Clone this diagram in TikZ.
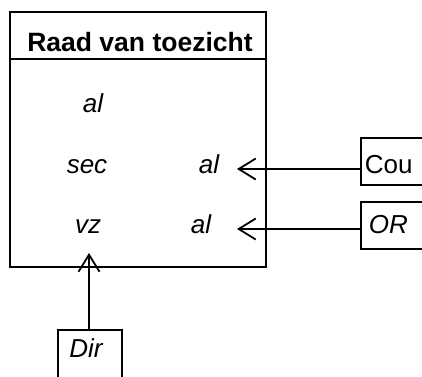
\documentclass[tikz,border=0pt]{standalone}
\usepackage{fontspec}
\setmainfont{Liberation Sans}
\usetikzlibrary{arrows.meta}
\begin{document}
\begin{tikzpicture}[x=1pt,y=-1pt,line width=1.8pt,
  lbl/.style={inner sep=0pt,anchor=base,font=\fontsize{26}{30}\selectfont\itshape},
  boxr/.style={draw,inner sep=0pt},
  arr/.style={-{Straight Barb[length=17pt,width=21pt,line width=1.8pt]}}]
\useasboundingbox (0,0) rectangle (422,376);
\clip (0,0) rectangle (422,376);
% main box
\node[boxr,anchor=north west,minimum width=256pt,minimum height=255pt] (main) at (9,11) {};
\draw (main.west |- 0,59) coordinate (hl) -- (main.east |- 0,59) coordinate (hr);
\node[inner sep=0pt,anchor=base,font=\fontsize{26.5}{30}\selectfont\bfseries] (title) at (140,51) {Raad van toezicht};
\node[lbl] (al1) at (93,112) {al};
\node[lbl] (sec) at (87,173) {sec};
\node[lbl] (al2) at (209,173) {al};
\node[lbl] (vz) at (88,233) {vz};
\node[lbl] (al3) at (201,233) {al};
% side boxes
\node[boxr,anchor=north west,minimum width=90pt,minimum height=47pt] (cou) at (360,137) {};
\node[inner sep=0pt,anchor=base west,font=\fontsize{26}{30}\selectfont] (coutxt) at (364,173) {Cou};
\node[boxr,anchor=north west,minimum width=90pt,minimum height=47pt] (or) at (360,201) {};
\node[lbl,anchor=base west] (ortxt) at (368,233) {OR};
\node[boxr,anchor=north west,minimum width=64pt,minimum height=60pt] (dir) at (57,329) {};
\node[lbl] (dirtxt) at (86,357) {Dir};
% connectors
\coordinate (t1) at (237,169);
\coordinate (t2) at (237,229);
\coordinate (t3) at (89,253);
\draw[arr] (cou.west |- t1) -- (t1);
\draw[arr] (or.west |- t2) -- (t2);
\draw[arr] (dir.north -| t3) -- (t3);
\end{tikzpicture}
\end{document}
